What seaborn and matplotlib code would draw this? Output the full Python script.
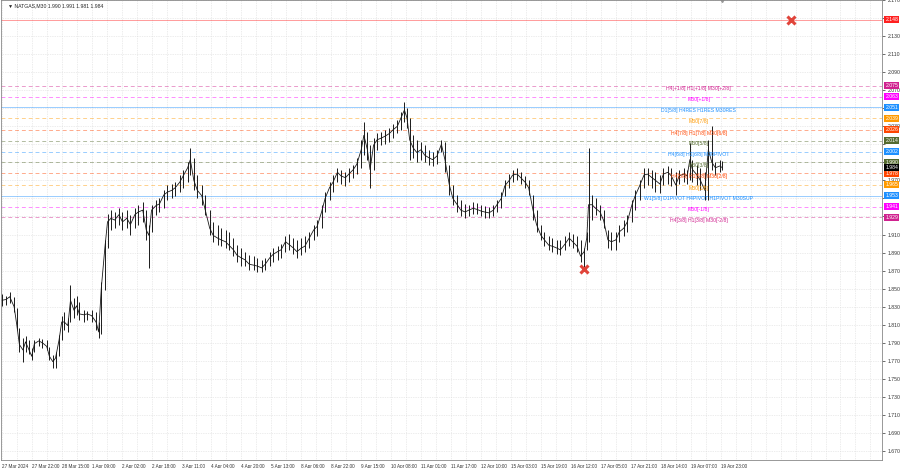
import numpy as np
import pandas as pd
import matplotlib
matplotlib.use('Agg')
import matplotlib.pyplot as plt
import matplotlib.transforms as mtransforms
import seaborn as sns

sns.set_style('white')
plt.rcParams['font.family'] = ['Liberation Sans', 'DejaVu Sans']

# ---- price samples (bar index, high, low, close) ----
bars = [0, 5, 9, 14, 17, 20, 24, 27, 31, 34,
        37, 42, 46, 51, 54, 58, 61, 65, 68, 71,
        75, 78, 82, 85, 88, 93, 97, 102, 107, 110,
        113, 117, 120, 124, 128, 133, 137, 142, 146, 151,
        155, 160, 164, 167, 170, 175, 179, 184, 188, 193,
        197, 202, 206, 211, 214, 218, 222, 227, 231, 236,
        240, 245, 249, 254, 258, 263, 267, 272, 276, 281,
        286, 290, 295, 299, 304, 308, 313, 317, 322, 326,
        331, 335, 340, 344, 349, 354, 358, 363, 367, 372,
        376, 381, 385, 390, 394, 399, 403, 408, 411, 415,
        418, 422, 426, 431, 435, 440, 444, 449, 453, 457,
        460, 463, 467, 471, 476, 480, 485, 489, 494, 499,
        503, 508, 512, 517, 521, 526, 530, 535, 539, 544,
        548, 553, 558, 562, 567, 571, 576, 580, 585, 589,
        594, 598, 603, 607, 612, 616, 621, 625, 630, 634,
        639, 644, 648, 653, 657, 661, 664, 666, 670, 674,
        679, 683, 688, 692, 697, 701, 706, 710, 715, 719,
        724, 729, 733, 738, 742, 747, 751, 756, 760, 765,
        769, 774, 778, 781, 784, 789, 793, 798, 802, 806,
        810, 815, 818]

highs = [1.844, 1.842, 1.846, 1.841, 1.829, 1.806, 1.795, 1.797, 1.793, 1.784,
         1.793, 1.795, 1.794, 1.793, 1.785, 1.776, 1.780, 1.799, 1.820, 1.824,
         1.817, 1.854, 1.840, 1.842, 1.835, 1.826, 1.825, 1.826, 1.824, 1.813,
         1.857, 1.904, 1.933, 1.937, 1.935, 1.939, 1.935, 1.937, 1.932, 1.939,
         1.943, 1.946, 1.937, 1.921, 1.943, 1.948, 1.950, 1.959, 1.965, 1.966,
         1.968, 1.976, 1.982, 1.990, 2.006, 1.995, 1.976, 1.965, 1.954, 1.937,
         1.924, 1.921, 1.917, 1.915, 1.913, 1.906, 1.898, 1.895, 1.891, 1.887,
         1.886, 1.884, 1.882, 1.884, 1.891, 1.895, 1.897, 1.899, 1.908, 1.911,
         1.906, 1.904, 1.906, 1.908, 1.913, 1.921, 1.926, 1.943, 1.957, 1.968,
         1.976, 1.984, 1.982, 1.979, 1.984, 1.987, 1.995, 2.015, 2.035, 2.024,
         2.009, 2.017, 2.022, 2.024, 2.026, 2.028, 2.033, 2.037, 2.046, 2.057,
         2.050, 2.039, 2.020, 2.015, 2.013, 2.009, 2.004, 2.001, 2.004, 2.015,
         2.013, 1.987, 1.965, 1.954, 1.948, 1.944, 1.943, 1.946, 1.945, 1.943,
         1.942, 1.941, 1.943, 1.948, 1.957, 1.970, 1.977, 1.982, 1.984, 1.979,
         1.975, 1.970, 1.954, 1.937, 1.921, 1.913, 1.908, 1.906, 1.904, 1.904,
         1.908, 1.913, 1.911, 1.908, 1.904, 1.895, 1.913, 2.006, 1.954, 1.950,
         1.943, 1.937, 1.915, 1.913, 1.913, 1.921, 1.926, 1.932, 1.948, 1.959,
         1.970, 1.984, 1.984, 1.982, 1.979, 1.976, 1.984, 1.986, 1.984, 1.979,
         1.982, 1.984, 1.982, 2.012, 1.993, 1.987, 1.984, 1.979, 2.015, 2.030,
         1.990, 1.993, 1.991]

lows = [1.831, 1.832, 1.834, 1.824, 1.804, 1.780, 1.769, 1.780, 1.778, 1.771,
        1.780, 1.786, 1.784, 1.782, 1.771, 1.762, 1.762, 1.775, 1.793, 1.804,
        1.802, 1.813, 1.817, 1.821, 1.815, 1.813, 1.815, 1.813, 1.804, 1.795,
        1.800, 1.848, 1.895, 1.915, 1.917, 1.921, 1.915, 1.917, 1.909, 1.917,
        1.921, 1.924, 1.904, 1.873, 1.913, 1.932, 1.935, 1.939, 1.948, 1.950,
        1.953, 1.957, 1.962, 1.968, 1.976, 1.959, 1.950, 1.943, 1.932, 1.909,
        1.902, 1.898, 1.897, 1.895, 1.893, 1.886, 1.880, 1.875, 1.875, 1.871,
        1.871, 1.868, 1.868, 1.871, 1.875, 1.880, 1.882, 1.884, 1.891, 1.893,
        1.888, 1.884, 1.887, 1.891, 1.895, 1.904, 1.908, 1.917, 1.935, 1.948,
        1.957, 1.968, 1.966, 1.964, 1.968, 1.973, 1.977, 1.984, 1.998, 1.993,
        1.962, 1.982, 2.004, 2.009, 2.010, 2.013, 2.017, 2.022, 2.026, 2.035,
        2.028, 1.993, 1.995, 1.990, 1.993, 1.990, 1.987, 1.986, 1.988, 2.001,
        1.979, 1.954, 1.943, 1.935, 1.931, 1.928, 1.931, 1.933, 1.933, 1.931,
        1.928, 1.928, 1.931, 1.935, 1.939, 1.953, 1.962, 1.968, 1.970, 1.966,
        1.962, 1.954, 1.926, 1.913, 1.904, 1.897, 1.893, 1.891, 1.888, 1.887,
        1.893, 1.897, 1.895, 1.891, 1.880, 1.871, 1.893, 1.902, 1.926, 1.932,
        1.926, 1.917, 1.895, 1.893, 1.893, 1.902, 1.908, 1.913, 1.924, 1.937,
        1.948, 1.962, 1.965, 1.962, 1.957, 1.956, 1.965, 1.966, 1.964, 1.954,
        1.966, 1.968, 1.966, 1.970, 1.968, 1.965, 1.959, 1.948, 1.948, 1.982,
        1.976, 1.979, 1.981]

closes = [1.837, 1.838, 1.841, 1.830, 1.810, 1.788, 1.782, 1.791, 1.782, 1.775,
          1.789, 1.792, 1.790, 1.786, 1.775, 1.769, 1.773, 1.793, 1.813, 1.813,
          1.809, 1.837, 1.826, 1.831, 1.822, 1.821, 1.822, 1.820, 1.813, 1.802,
          1.851, 1.895, 1.924, 1.928, 1.926, 1.932, 1.924, 1.928, 1.921, 1.932,
          1.935, 1.937, 1.915, 1.909, 1.937, 1.942, 1.944, 1.954, 1.957, 1.959,
          1.962, 1.968, 1.975, 1.984, 1.993, 1.970, 1.959, 1.953, 1.937, 1.917,
          1.909, 1.906, 1.904, 1.902, 1.898, 1.893, 1.887, 1.884, 1.882, 1.877,
          1.876, 1.875, 1.873, 1.877, 1.884, 1.888, 1.891, 1.893, 1.902, 1.899,
          1.895, 1.891, 1.895, 1.897, 1.906, 1.915, 1.919, 1.935, 1.950, 1.962,
          1.968, 1.979, 1.975, 1.973, 1.977, 1.982, 1.988, 2.004, 2.020, 2.004,
          1.982, 2.009, 2.015, 2.017, 2.019, 2.022, 2.026, 2.030, 2.039, 2.048,
          2.039, 2.015, 2.006, 2.001, 2.004, 1.998, 1.995, 1.993, 1.997, 2.010,
          1.993, 1.965, 1.950, 1.943, 1.937, 1.935, 1.937, 1.939, 1.938, 1.936,
          1.935, 1.934, 1.937, 1.943, 1.950, 1.964, 1.970, 1.976, 1.977, 1.973,
          1.968, 1.962, 1.937, 1.921, 1.909, 1.904, 1.898, 1.897, 1.895, 1.893,
          1.899, 1.906, 1.902, 1.897, 1.886, 1.891, 1.906, 1.943, 1.943, 1.939,
          1.935, 1.926, 1.904, 1.902, 1.904, 1.913, 1.917, 1.924, 1.942, 1.953,
          1.964, 1.976, 1.977, 1.973, 1.970, 1.966, 1.977, 1.979, 1.975, 1.965,
          1.975, 1.977, 1.975, 1.993, 1.982, 1.976, 1.970, 1.959, 2.004, 1.990,
          1.984, 1.986, 1.984]

# ---- murrey levels ----
level_prices = [2.148, 2.075, 2.063, 2.051, 2.039, 2.026, 2.014, 2.002,
                1.990, 1.978, 1.965, 1.953, 1.941, 1.929]
level_names = ['', 'H4[+1/8] H1[+1/8] M30[+2/8]', 'M30[+1/8]',
               'D1[5/8] H4RES H1RES M30RES', 'M30[7/8]',
               'H4[7/8] H1[7/8] M30[6/8]', 'M30[5/8]',
               'H4[6/8] H1[6/8] M30PIVOT', 'M30[3/8]',
               'H4[5/8] H1[5/8] M30[2/8]', 'M30[1/8]',
               'W1[5/8] D1PIVOT H4PIVOT H1PIVOT M30SUP', 'M30[-1/8]',
               'H4[3/8] H1[3/8] M30[-2/8]']
level_colors = ['#ff2020', '#d0228f', '#ff00ff', '#1e90ff', '#ff9a00',
                '#ff4500', '#556b2f', '#1e90ff', '#556b2f', '#ff4500',
                '#ff9a00', '#1e90ff', '#ff00ff', '#d0228f']
level_solid = [True, False, False, True, False, False, False, False,
               False, False, False, True, False, False]

last_price = 1.984
target_bars = [896, 661]
target_prices = [2.148, 1.872]

tick_bars = list(range(0, 817, 34))
tick_labels = ['27 Mar 2024', '27 Mar 22:00', '28 Mar 15:00', '1 Apr 09:00',
               '2 Apr 02:00', '2 Apr 18:00', '3 Apr 11:00', '4 Apr 04:00',
               '4 Apr 20:00', '5 Apr 13:00', '8 Apr 06:00', '8 Apr 22:00',
               '9 Apr 15:00', '10 Apr 08:00', '11 Apr 01:00', '11 Apr 17:00',
               '12 Apr 10:00', '15 Apr 03:00', '15 Apr 19:00', '16 Apr 12:00',
               '17 Apr 05:00', '17 Apr 21:00', '18 Apr 14:00', '19 Apr 07:00',
               '19 Apr 23:00']
y_ticks = [round(1.670 + 0.02 * i, 3) for i in range(26)]
# price labels hidden behind the level boxes on the right scale
y_hidden = [2.150, 2.050, 2.010, 1.990, 1.950, 1.930]

df = pd.DataFrame({'bar': bars, 'high': highs, 'low': lows, 'close': closes})

fig = plt.figure(figsize=(9, 4.68), dpi=100)
ax = fig.add_axes([0.001, 8 / 468, 881 / 900, 460 / 468])
fs = 3.7

# grid
ax.set_xlim(-1, 999)
ax.set_ylim(1.660, 2.170)
ax.set_xticks(range(0, 1000, 17), minor=True)
ax.grid(True, which='both', color='#dadada', linestyle=(0, (1, 1.5)), lw=0.5)
ax.set_axisbelow(True)

# levels
trans = mtransforms.blended_transform_factory(ax.transAxes, ax.transData)
for p, name, c, solid in zip(level_prices, level_names, level_colors, level_solid):
    ls = '-' if solid else (0, (4, 3))
    ax.axhline(p, color=c, lw=0.7, ls=ls, alpha=0.45, zorder=1)
    if name:
        ax.text(791, p - 0.0008, name, color=c, fontsize=fs, ha='center',
                va='top', zorder=3)
    ax.text(1.004, p, f'{p:.3f}', transform=trans, color='white', fontsize=fs,
            ha='left', va='center', clip_on=False, zorder=5,
            bbox=dict(boxstyle='square,pad=0.2', fc=c, ec='none'))
ax.text(1.004, last_price, f'{last_price:.3f}', transform=trans, color='white',
        fontsize=fs, ha='left', va='center', clip_on=False, zorder=6,
        bbox=dict(boxstyle='square,pad=0.2', fc='black', ec='none'))

# price bars
ax.vlines(df['bar'], df['low'], df['high'], color='#1a1a1a', lw=0.7, zorder=2)
sns.lineplot(data=df, x='bar', y='close', ax=ax, color='#1a1a1a', lw=0.6,
             zorder=2)

# targets
ax.plot(target_bars, target_prices, ls='none', marker='x', ms=6, mew=2.2,
        color='#e0443a', zorder=4)

# header
ax.text(0.008, 0.993, '\u25bc NATGAS,M30 1.990 1.991 1.981 1.984',
        transform=ax.transAxes, fontsize=fs, va='top', ha='left')
ax.plot([818], [2.170], marker='v', ms=3, color='#999999', clip_on=False)

# axes
ax.yaxis.tick_right()
ax.set_yticks(y_ticks)
ax.set_yticklabels(['' if v in y_hidden else f'{v:.3f}' for v in y_ticks])
ax.set_xticks(tick_bars)
ax.set_xticklabels(tick_labels, ha='left')
ax.tick_params(axis='both', labelsize=fs, length=2, width=0.5, pad=1,
               colors='#333333')
ax.tick_params(axis='x', labelsize=3.3)
ax.tick_params(axis='y', pad=2)
ax.tick_params(axis='x', which='minor', length=0)
ax.set_xlabel('')
ax.set_ylabel('')
for s in ax.spines.values():
    s.set_color('#888888')
    s.set_linewidth(0.6)

fig.savefig('out.png', dpi=100)
